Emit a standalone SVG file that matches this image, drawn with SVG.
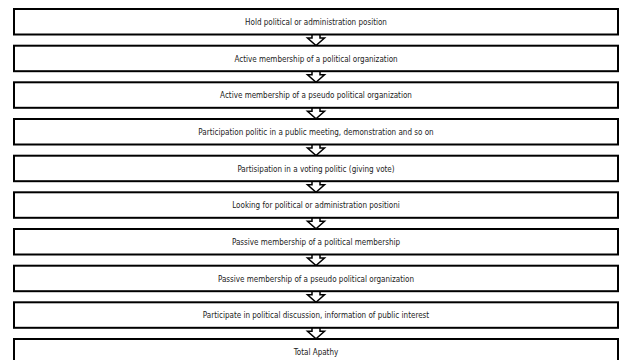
<svg xmlns="http://www.w3.org/2000/svg" width="620" height="360" viewBox="0 0 620 360">
<style>
.box{fill:#ffffff;stroke:#000000;stroke-width:2}
.lbl{font-family:"DejaVu Sans Condensed","DejaVu Sans",sans-serif;font-size:8px;fill:#1a1a1a;text-anchor:middle}
.arr{fill:#ffffff;stroke:#000000;stroke-width:1.5;stroke-linejoin:miter}
</style>
<defs>
<path id="arrow" class="arr" d="M312,-1 V3.5 H307.5 L316,11 L324.5,3.5 H320 V-1"/>
</defs>
<rect width="620" height="360" fill="#ffffff"/>
<g id="connectors">
<use href="#arrow" transform="translate(0,34.5)"/>
<use href="#arrow" transform="translate(0,71.2)"/>
<use href="#arrow" transform="translate(0,107.8)"/>
<use href="#arrow" transform="translate(0,144.5)"/>
<use href="#arrow" transform="translate(0,181.2)"/>
<use href="#arrow" transform="translate(0,217.8)"/>
<use href="#arrow" transform="translate(0,254.5)"/>
<use href="#arrow" transform="translate(0,291.2)"/>
<use href="#arrow" transform="translate(0,327.8)"/>
</g>
<g id="n1"><rect class="box" x="14" y="9" width="604" height="25.5"/><text class="lbl" x="316" y="24.8">Hold political or administration position</text></g>
<g id="n2"><rect class="box" x="14" y="45.7" width="604" height="25.5"/><text class="lbl" x="316" y="61.5">Active membership of a political organization</text></g>
<g id="n3"><rect class="box" x="14" y="82.3" width="604" height="25.5"/><text class="lbl" x="316" y="98.1">Active membership of a pseudo political organization</text></g>
<g id="n4"><rect class="box" x="14" y="119" width="604" height="25.5"/><text class="lbl" x="316" y="134.8">Participation politic in a public meeting, demonstration and so on</text></g>
<g id="n5"><rect class="box" x="14" y="155.7" width="604" height="25.5"/><text class="lbl" x="316" y="171.5">Partisipation in a voting politic (giving vote)</text></g>
<g id="n6"><rect class="box" x="14" y="192.3" width="604" height="25.5"/><text class="lbl" x="316" y="208.1">Looking for political or administration positioni</text></g>
<g id="n7"><rect class="box" x="14" y="229" width="604" height="25.5"/><text class="lbl" x="316" y="244.8">Passive membership of a political membership</text></g>
<g id="n8"><rect class="box" x="14" y="265.7" width="604" height="25.5"/><text class="lbl" x="316" y="281.5">Passive membership of a pseudo political organization</text></g>
<g id="n9"><rect class="box" x="14" y="302.3" width="604" height="25.5"/><text class="lbl" x="316" y="318.1">Participate in political discussion, information of public interest</text></g>
<g id="n10"><rect class="box" x="14" y="339" width="604" height="25.5"/><text class="lbl" x="316" y="354.8">Total Apathy</text></g>
</svg>
